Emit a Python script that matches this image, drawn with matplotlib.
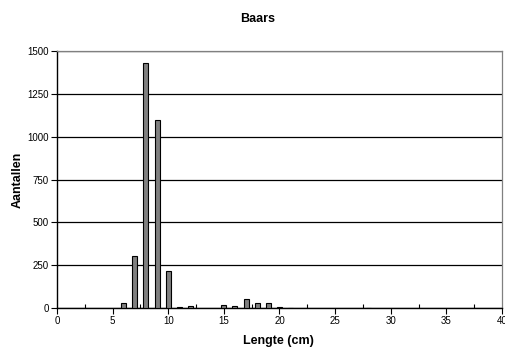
import numpy as np
import matplotlib.pyplot as plt

# Lengte-frequentie baars
lengte = [6, 7, 8, 9, 10, 11, 12, 15, 16, 17, 18, 19, 20, 21, 28]
aantallen = [29, 302, 1428, 1095, 216, 8, 13, 17, 12, 53, 29, 29, 3, 2, 2]

plt.rcParams['font.family'] = ['Liberation Sans', 'DejaVu Sans']

fig = plt.figure(figsize=(5.06, 3.48), dpi=100)
ax = fig.add_axes([0.1126, 0.115, 0.8794, 0.738])

ax.bar(lengte, aantallen, width=0.45, color='#808080', edgecolor='black', linewidth=0.8, zorder=3)

ax.set_xlim(0, 40)
ax.set_ylim(0, 1500)
ax.set_xticks(np.arange(0, 41, 5))
ax.set_xticks(np.arange(2.5, 40, 5), minor=True)
ax.set_yticks(np.arange(0, 1501, 250))
ax.yaxis.grid(True, color='black', linewidth=0.9, zorder=0)

ax.tick_params(axis='x', which='major', direction='out', length=4, width=0.8, labelsize=7, pad=2)
ax.tick_params(axis='x', which='minor', direction='in', length=3, width=0.8)
ax.tick_params(axis='y', direction='out', length=4, width=0.8, labelsize=7, pad=2)

for side in ['top', 'right']:
    ax.spines[side].set_color('#808080')
    ax.spines[side].set_linewidth(0.9)
ax.spines['left'].set_linewidth(1.0)
ax.spines['bottom'].set_linewidth(1.0)

# titel en aslabels
fig.text(0.509, 0.944, 'Baars', fontsize=9, fontweight='bold', ha='center', va='center')
fig.text(0.551, 0.020, 'Lengte (cm)', fontsize=9, fontweight='bold', ha='center', va='center')
fig.text(0.0346, 0.484, 'Aantallen', fontsize=9, fontweight='bold', ha='center', va='center',
         rotation=90)

fig.savefig('out.png', dpi=100)
